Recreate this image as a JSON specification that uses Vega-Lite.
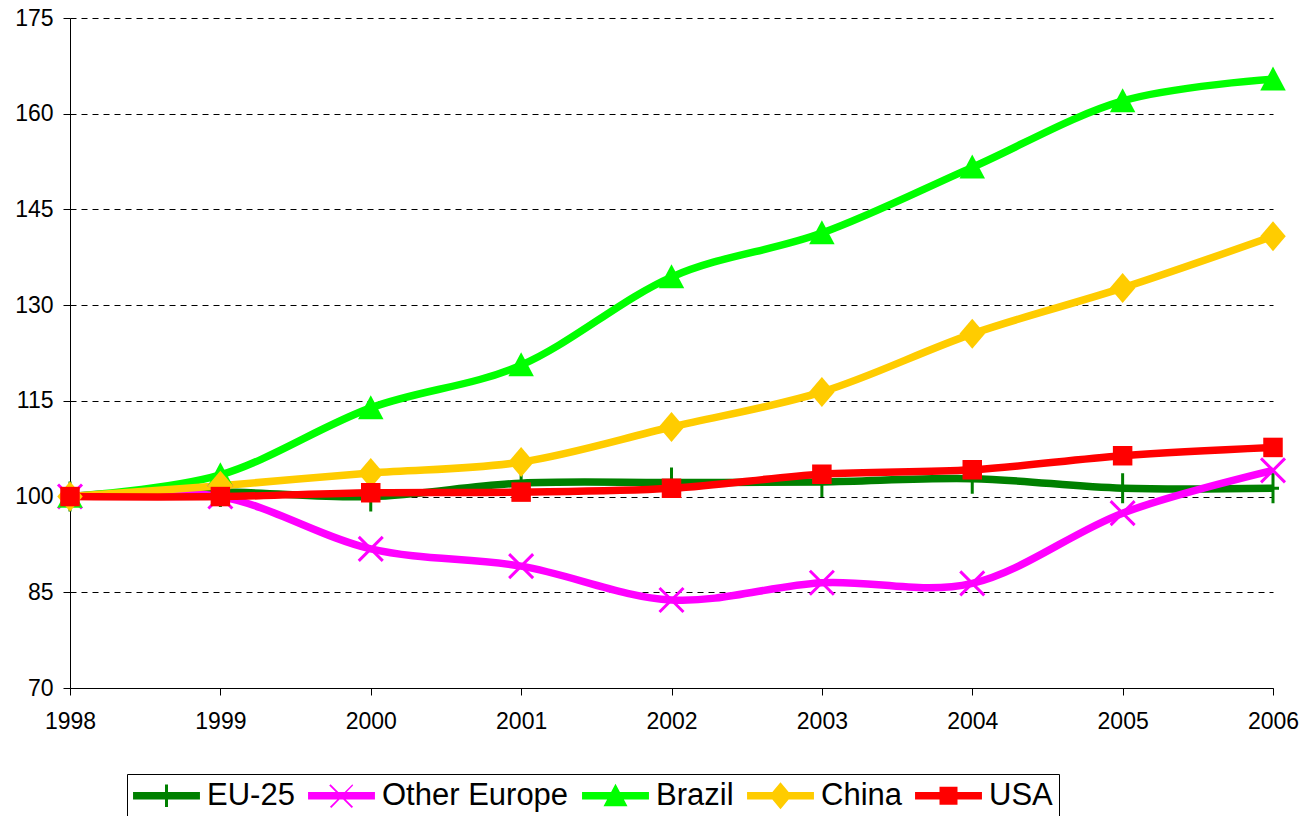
{
  "$schema": "https://vega.github.io/schema/vega-lite/v6.json",
  "width": 1203,
  "height": 670,
  "autosize": {"type": "none"},
  "padding": {"left": 70, "top": 18, "right": 32, "bottom": 128},
  "background": "white",
  "config": {
    "view": {"stroke": null},
    "axis": {"labelFont": "Liberation Sans", "labelFontSize": 23, "labelColor": "#000", "domainColor": "#000", "tickColor": "#000", "title": null, "labelFlush": false},
    "legend": {"labelFont": "Liberation Sans", "labelFontSize": 31, "labelColor": "#000", "labelLimit": 0}
  },
  "data": {"values": [
    {"year": 1998, "series": "EU-25", "value": 100},
    {"year": 1999, "series": "EU-25", "value": 100.7},
    {"year": 2000, "series": "EU-25", "value": 100.0},
    {"year": 2001, "series": "EU-25", "value": 102.1},
    {"year": 2002, "series": "EU-25", "value": 102.2},
    {"year": 2003, "series": "EU-25", "value": 102.3},
    {"year": 2004, "series": "EU-25", "value": 102.8},
    {"year": 2005, "series": "EU-25", "value": 101.3},
    {"year": 2006, "series": "EU-25", "value": 101.3},
    {"year": 1998, "series": "Other Europe", "value": 100},
    {"year": 1999, "series": "Other Europe", "value": 100},
    {"year": 2000, "series": "Other Europe", "value": 91.8},
    {"year": 2001, "series": "Other Europe", "value": 89.1},
    {"year": 2002, "series": "Other Europe", "value": 83.8},
    {"year": 2003, "series": "Other Europe", "value": 86.5},
    {"year": 2004, "series": "Other Europe", "value": 86.4},
    {"year": 2005, "series": "Other Europe", "value": 97.4},
    {"year": 2006, "series": "Other Europe", "value": 104.1},
    {"year": 1998, "series": "Brazil", "value": 100},
    {"year": 1999, "series": "Brazil", "value": 103.4},
    {"year": 2000, "series": "Brazil", "value": 113.9},
    {"year": 2001, "series": "Brazil", "value": 120.6},
    {"year": 2002, "series": "Brazil", "value": 134.4},
    {"year": 2003, "series": "Brazil", "value": 141.3},
    {"year": 2004, "series": "Brazil", "value": 151.6},
    {"year": 2005, "series": "Brazil", "value": 162.0},
    {"year": 2006, "series": "Brazil", "value": 165.4},
    {"year": 1998, "series": "China", "value": 100},
    {"year": 1999, "series": "China", "value": 101.7},
    {"year": 2000, "series": "China", "value": 103.7},
    {"year": 2001, "series": "China", "value": 105.4},
    {"year": 2002, "series": "China", "value": 110.9},
    {"year": 2003, "series": "China", "value": 116.4},
    {"year": 2004, "series": "China", "value": 125.5},
    {"year": 2005, "series": "China", "value": 132.7},
    {"year": 2006, "series": "China", "value": 140.8},
    {"year": 1998, "series": "USA", "value": 100},
    {"year": 1999, "series": "USA", "value": 100.0},
    {"year": 2000, "series": "USA", "value": 100.6},
    {"year": 2001, "series": "USA", "value": 100.7},
    {"year": 2002, "series": "USA", "value": 101.3},
    {"year": 2003, "series": "USA", "value": 103.5},
    {"year": 2004, "series": "USA", "value": 104.2},
    {"year": 2005, "series": "USA", "value": 106.4},
    {"year": 2006, "series": "USA", "value": 107.7}
  ]},
  "encoding": {
    "x": {"field": "year", "type": "quantitative",
      "scale": {"domain": [1998, 2006], "nice": false, "zero": false},
      "axis": {"values": [1998, 1999, 2000, 2001, 2002, 2003, 2004, 2005, 2006], "format": "d", "grid": false, "tickSize": 7, "labelPadding": 15, "labelFlush": false}},
    "y": {"field": "value", "type": "quantitative",
      "scale": {"domain": [70, 175], "nice": false, "zero": false},
      "axis": {"values": [70, 85, 100, 115, 130, 145, 160, 175], "grid": true, "gridColor": "#000", "gridDash": [6, 5], "gridWidth": 1, "tickSize": 7, "labelPadding": 10, "labelFlush": false}},
    "color": {"field": "series", "type": "nominal",
      "scale": {"domain": ["EU-25", "Other Europe", "Brazil", "China", "USA"], "range": ["#008000", "#FF00FF", "#00FF00", "#FFCC00", "#FF0000"]},
      "legend": {
        "title": null, "orient": "none", "direction": "horizontal", "legendX": 57, "legendY": 756,
        "strokeColor": "#000", "fillColor": "#fff", "padding": 6, "columnPadding": 13,
        "symbolSize": 900, "labelOffset": 43, "labelLimit": 0,
        "encode": {"symbols": {"update": {
          "shape": {"signal": "datum.value === 'EU-25' ? 'M-2.23,-0.25H2.23V0.25H-2.23Z M-0.1,-0.75H0.1V0.75H-0.1Z' : datum.value === 'Other Europe' ? 'M-2.23,-0.25H2.23V0.25H-2.23Z M-0.73,-0.77L0.77,0.73L0.68,0.82L-0.82,-0.68Z M0.77,-0.68L-0.68,0.82L-0.77,0.73L0.73,-0.77Z' : datum.value === 'Brazil' ? 'M-2.23,-0.25H2.23V0.25H-2.23Z M0,-0.8L0.8,0.7H-0.8Z' : datum.value === 'China' ? 'M-2.23,-0.25H2.23V0.25H-2.23Z M0,-0.9L0.75,0L0,0.9L-0.75,0Z' : 'M-2.23,-0.25H2.23V0.25H-2.23Z M-0.6,-0.6H0.6V0.6H-0.6Z'"},
          "fill": {"scale": "color", "field": "value"},
          "stroke": {"value": "transparent"},
          "strokeWidth": {"value": 0},
          "size": {"value": 900},
          "opacity": {"value": 1},
          "x": {"value": 33.5}
        }}}
      }
    }
  },
  "layer": [
    {"mark": {"type": "line", "interpolate": "cardinal", "strokeWidth": 7.5}},
    {"mark": {"type": "point", "filled": true, "opacity": 1, "size": 900, "strokeWidth": 0},
      "encoding": {"shape": {
        "condition": [
          {"test": "datum.series === 'EU-25'", "value": "M-0.1,-1H0.1V1H-0.1Z M-0.4,-0.1H0.4V0.1H-0.4Z"},
          {"test": "datum.series === 'Other Europe'", "value": "M-0.73,-0.87L0.87,0.73L0.73,0.87L-0.87,-0.73Z M0.87,-0.73L-0.73,0.87L-0.87,0.73L0.73,-0.87Z"},
          {"test": "datum.series === 'Brazil'", "value": "M0,-0.85L0.85,0.75H-0.85Z"},
          {"test": "datum.series === 'China'", "value": "M0,-1L0.85,0L0,1L-0.85,0Z"}
        ],
        "value": "M-0.65,-0.65H0.65V0.65H-0.65Z"}}}
  ]
}
